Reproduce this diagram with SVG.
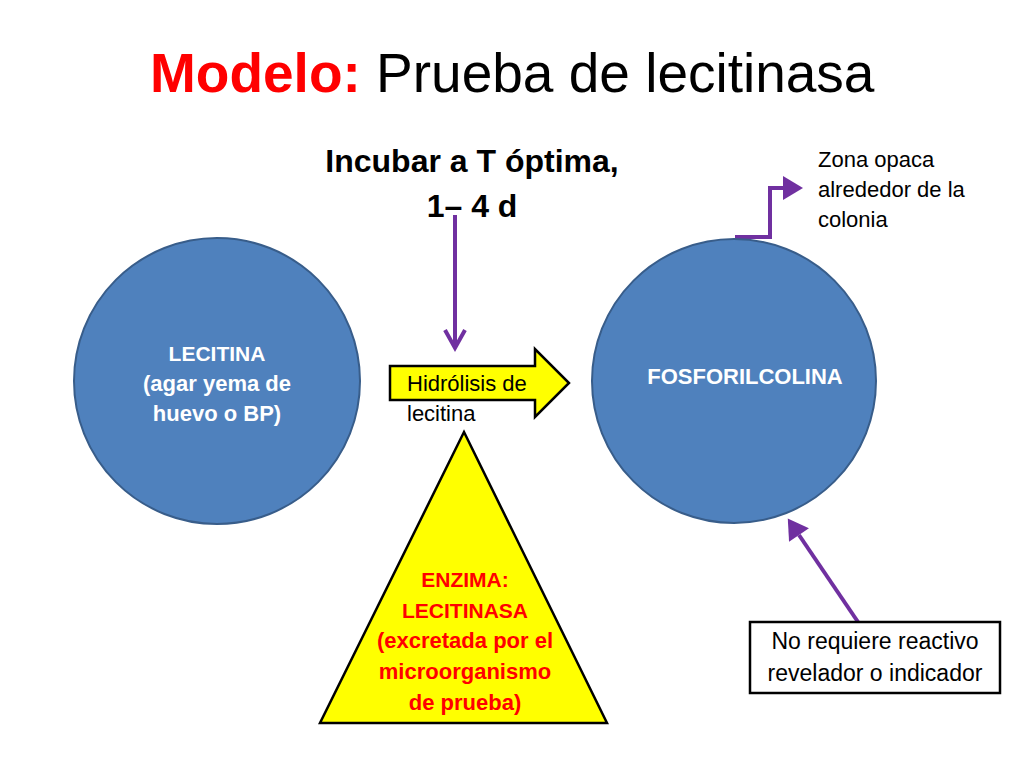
<svg xmlns="http://www.w3.org/2000/svg" width="1024" height="768" viewBox="0 0 1024 768">
<style>
text { font-family: "Liberation Sans", Arial, sans-serif; }
.title { font-size: 55px; }
.hdr { font-size: 32px; font-weight: bold; fill: #000; text-anchor: middle; }
.circ { fill: #4F81BD; stroke: #385D8A; stroke-width: 2; }
.wt { font-size: 22px; font-weight: bold; fill: #fff; text-anchor: middle; }
.rt { font-size: 22px; font-weight: bold; fill: #FF0000; text-anchor: middle; }
.cap { font-size: 21px; }
.bt { font-size: 22px; fill: #000; }
.box { font-size: 23px; fill: #000; text-anchor: middle; }
.yel { fill: #FFFF00; stroke: #000; stroke-width: 2.5; stroke-linejoin: miter; }
.con { fill: none; stroke: #7030A0; stroke-width: 4; }
</style>
<defs>
<marker id="fill" markerUnits="userSpaceOnUse" markerWidth="22" markerHeight="24" refX="0" refY="12" orient="auto" overflow="visible">
<path d="M0,0 L20,12 L0,24 z" fill="#7030A0"/>
</marker>
<marker id="open" markerUnits="userSpaceOnUse" markerWidth="24" markerHeight="24" refX="18" refY="10" orient="auto" overflow="visible">
<path d="M0,0 L18,10 L0,20" fill="none" stroke="#7030A0" stroke-width="4" stroke-linejoin="miter"/>
</marker>
</defs>
<rect width="1024" height="768" fill="#fff"/>

<g id="title">
<text x="150" y="92" class="title"><tspan font-weight="bold" fill="#FF0000">Modelo:</tspan><tspan fill="#000"> Prueba de lecitinasa</tspan></text>
</g>

<g id="incubar">
<text x="472" y="172" class="hdr">Incubar a T óptima,</text>
<text x="472" y="217" class="hdr">1– 4 d</text>
</g>

<g id="connectors">
<line x1="455" y1="215" x2="455" y2="348" class="con" marker-end="url(#open)"/>
<path d="M735,237 H770 V188 H783" class="con" stroke-linejoin="miter" marker-end="url(#fill)"/>
<line x1="858" y1="622" x2="799" y2="535" class="con" marker-end="url(#fill)"/>
</g>

<g id="lecitina">
<circle cx="217" cy="381" r="143" class="circ"/>
<text x="217" y="361" class="wt cap">LECITINA</text>
<text x="217" y="391" class="wt">(agar yema de</text>
<text x="217" y="421" class="wt">huevo o BP)</text>
</g>

<g id="fosforilcolina">
<circle cx="734" cy="381" r="142" class="circ"/>
<text x="745" y="384" class="wt" font-size="20.5">FOSFORILCOLINA</text>
</g>

<g id="hidrolisis">
<polygon points="390,366 535,366 535,349 569,383 535,417 535,400 390,400" class="yel"/>
<text x="407" y="391" class="bt">Hidrólisis de</text>
<text x="407" y="421" class="bt">lecitina</text>
</g>

<g id="enzima">
<polygon points="464,432 607,723 320,723" class="yel"/>
<text x="465" y="587" class="rt cap">ENZIMA:</text>
<text x="465" y="618" class="rt cap">LECITINASA</text>
<text x="465" y="648" class="rt">(excretada por el</text>
<text x="465" y="679" class="rt">microorganismo</text>
<text x="465" y="710" class="rt">de prueba)</text>
</g>

<g id="zona">
<text x="818" y="167" class="bt">Zona opaca</text>
<text x="818" y="197" class="bt">alrededor de la</text>
<text x="818" y="227" class="bt">colonia</text>
</g>

<g id="reactivo">
<rect x="750" y="622" width="250" height="71" fill="#fff" stroke="#000" stroke-width="2.5"/>
<text x="875" y="649" class="box">No requiere reactivo</text>
<text x="875" y="681" class="box">revelador o indicador</text>
</g>
</svg>
